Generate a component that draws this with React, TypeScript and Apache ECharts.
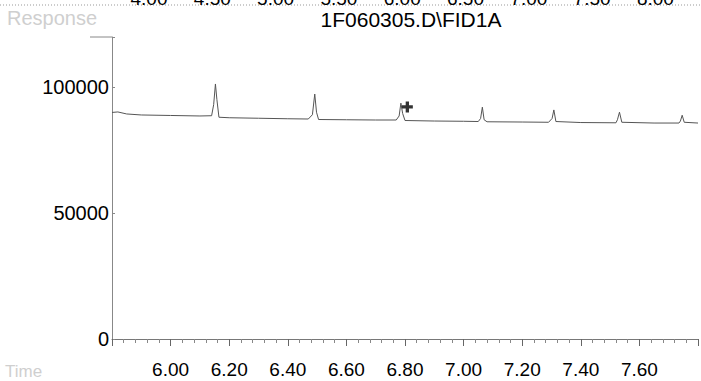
import React, { useEffect, useRef } from "react";
import * as echarts from "echarts";

// ---- data ----
const xTickLabels = ["6.00", "6.20", "6.40", "6.60", "6.80", "7.00", "7.20", "7.40", "7.60"];
const yTickLabels = [0, 50000, 100000];
const topAxisLabels = ["4.00", "4.50", "5.00", "5.50", "6.00", "6.50", "7.00", "7.50", "8.00"];

const traceTime = [
  5.80, 5.82, 5.85, 5.90, 6.00, 6.10, 6.14, 6.147, 6.153, 6.158, 6.165,
  6.20, 6.30, 6.40, 6.47, 6.484, 6.492, 6.498, 6.505,
  6.60, 6.70, 6.77, 6.780, 6.786, 6.792, 6.80,
  6.90, 7.00, 7.05, 7.058, 7.064, 7.070, 7.08,
  7.20, 7.29, 7.302, 7.308, 7.315,
  7.40, 7.52, 7.525, 7.532, 7.540,
  7.65, 7.735, 7.740, 7.746, 7.753, 7.80,
];
const traceResponse = [
  89900, 90100, 89300, 88900, 88700, 88500, 88600, 93000, 101200, 95000, 88000,
  87800, 87600, 87400, 87300, 89000, 97200, 90000, 87100,
  87000, 86900, 86900, 88500, 93600, 89500, 86700,
  86500, 86400, 86300, 87500, 92000, 87000, 86200,
  86100, 86000, 87500, 90900, 86300,
  85900, 85800, 87000, 90000, 86000,
  85700, 85700, 86500, 88800, 86000, 85700,
];
const markerTime = [6.808];
const markerResponse = [92100];

const FONT = "Liberation Sans, Arial, Helvetica, sans-serif";

export default function App() {
  const ref = useRef<HTMLDivElement>(null);

  useEffect(() => {
    if (!ref.current) return;
    const chart = echarts.init(ref.current, undefined, { renderer: "svg" });

    const trace = traceTime.map((t, i) => [t, traceResponse[i]]);
    const markers = markerTime.map((t, i) => [t, markerResponse[i]]);

    const topTexts: any[] = topAxisLabels.map((lab, i) => ({
      type: "text",
      x: 149 + i * 63.3,
      y: -2,
      style: {
        text: lab,
        fill: "#000",
        font: `19px ${FONT}`,
        align: "center",
        verticalAlign: "middle",
      },
      z: 10,
    }));

    chart.setOption({
      animation: false,
      backgroundColor: "#fff",
      grid: { left: 112, right: 0, top: 37, bottom: 42, containLabel: false },
      xAxis: {
        type: "value",
        min: 5.8,
        max: 7.8,
        interval: 0.2,
        offset: 7,
        axisLine: { show: true, lineStyle: { color: "#777", width: 1 } },
        axisTick: { show: true, length: 7, lineStyle: { color: "#666" } },
        minorTick: { show: true, splitNumber: 5, length: 4, lineStyle: { color: "#888" } },
        splitLine: { show: false },
        minorSplitLine: { show: false },
        axisLabel: {
          margin: 14,
          color: "#000",
          fontSize: 19,
          fontFamily: FONT,
          formatter: (v: number) => {
            const s = v.toFixed(2);
            return xTickLabels.includes(s) ? s : "";
          },
        },
      },
      yAxis: {
        type: "value",
        min: 0,
        max: 119841,
        interval: 50000,
        axisLine: { show: true, lineStyle: { color: "#888", width: 1 } },
        axisTick: { show: true, inside: true, length: 3, lineStyle: { color: "#888" } },
        splitLine: { show: false },
        axisLabel: {
          margin: 3,
          color: "#000",
          fontSize: 20,
          fontFamily: FONT,
          formatter: (v: number) => (yTickLabels.includes(Math.round(v)) ? String(Math.round(v)) : ""),
        },
      },
      series: [
        {
          type: "line",
          data: trace,
          showSymbol: false,
          symbol: "none",
          lineStyle: { color: "#555", width: 1 },
          z: 3,
        },
        {
          type: "scatter",
          data: markers,
          symbol: "path://M3.5,0H6.5V3.5H10V6.5H6.5V10H3.5V6.5H0V3.5H3.5Z",
          symbolSize: 11,
          itemStyle: { color: "#000" },
          z: 5,
        },
      ],
      graphic: [
        {
          type: "line",
          shape: { x1: 0, y1: 5, x2: 701, y2: 5 },
          style: { stroke: "#999", lineWidth: 1, lineDash: [1, 2] },
          z: 1,
        },
        ...topTexts,
        {
          type: "text",
          x: 7,
          y: 18,
          style: {
            text: "Response",
            fill: "#cfcfcf",
            font: `20px ${FONT}`,
            align: "left",
            verticalAlign: "middle",
          },
        },
        {
          type: "line",
          shape: { x1: 90, y1: 37, x2: 112, y2: 37 },
          style: { stroke: "#888", lineWidth: 1 },
        },
        {
          type: "line",
          shape: { x1: 112.5, y1: 339, x2: 112.5, y2: 346 },
          style: { stroke: "#888", lineWidth: 1 },
        },
        {
          type: "text",
          x: 411,
          y: 19,
          style: {
            text: "1F060305.D\\FID1A",
            fill: "#000",
            font: `21px ${FONT}`,
            align: "center",
            verticalAlign: "middle",
          },
        },
        {
          type: "text",
          x: 5,
          y: 371,
          style: {
            text: "Time",
            fill: "#cfcfcf",
            font: `17px ${FONT}`,
            align: "left",
            verticalAlign: "middle",
          },
        },
      ],
    });

    return () => chart.dispose();
  }, []);

  return (
    <div
      ref={ref}
      style={{ position: "absolute", left: 0, top: 0, width: 701, height: 381 }}
    />
  );
}
